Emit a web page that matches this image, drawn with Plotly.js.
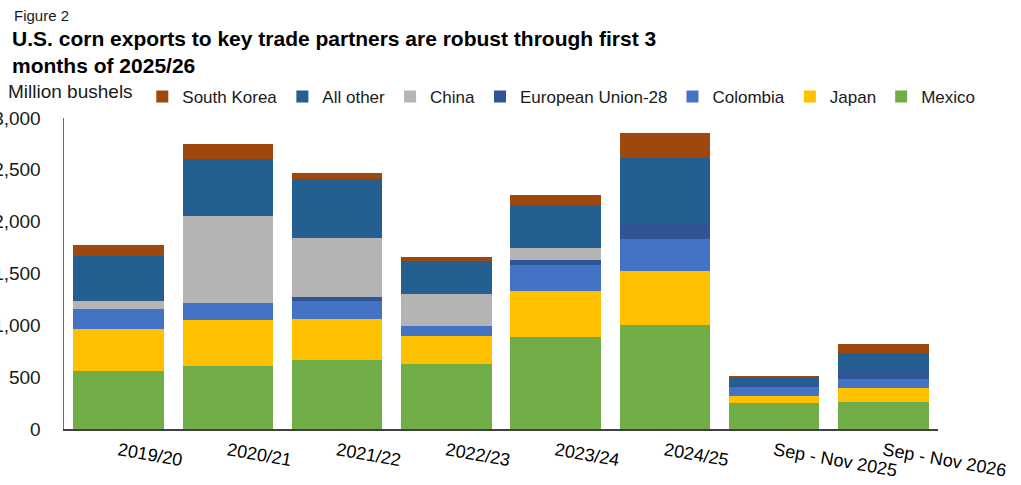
<!DOCTYPE html>
<html>
<head>
<meta charset="utf-8">
<script src="https://cdn.plot.ly/plotly-3.0.1.min.js"></script>
<style>
  html, body { margin: 0; padding: 0; background: #ffffff; }
  #chart { width: 1021px; height: 485px; }
</style>
</head>
<body>
<div id="chart"></div>
<script>
// Categories (marketing years)
var categories = ["2019/20", "2020/21", "2021/22", "2022/23", "2023/24", "2024/25", "Sep - Nov 2025", "Sep - Nov 2026"];

// Series values, million bushels
var mexico      = [559, 604, 662, 630, 890, 1000, 254, 257];
var japan       = [402, 447, 395, 270, 443, 523, 64, 135];
var colombia    = [199, 161, 180, 93, 248, 311, 84, 90];
var eu28        = [0, 0, 33, 0, 45, 145, 22, 87];
var china       = [77, 841, 568, 311, 119, 0, 0, 0];
var allOther    = [434, 550, 575, 319, 411, 633, 74, 167];
var southKorea  = [105, 144, 61, 38, 97, 245, 16, 86];

var seriesNames  = ["Mexico", "Japan", "Colombia", "European Union-28", "China", "All other", "South Korea"];
var seriesValues = [mexico, japan, colombia, eu28, china, allOther, southKorea];
var seriesColors = ["#70AD47", "#FFC000", "#4472C4", "#2F5597", "#B4B4B4", "#255E91", "#9E480E"];

var yTickValues = [0, 500, 1000, 1500, 2000, 2500, 3000];

var traces = seriesNames.map(function (name, i) {
  return {
    type: "bar",
    name: name,
    x: categories,
    y: seriesValues[i],
    marker: { color: seriesColors[i], line: { width: 0 } },
    hoverinfo: "name+y"
  };
});

var layout = {
  width: 1021,
  height: 485,
  barmode: "stack",
  bargap: 0.17,
  paper_bgcolor: "#ffffff",
  plot_bgcolor: "#ffffff",
  font: { family: "Arial, 'Liberation Sans', sans-serif", color: "#1a1a1a", size: 18 },
  margin: { l: 64, r: 83, t: 118, b: 56, pad: 0 },
  title: {
    text: "<b>U.S. corn exports to key trade partners are robust through first 3<br>months of 2025/26</b>",
    font: { family: "Arial, 'Liberation Sans', sans-serif", size: 21, color: "#000000" },
    xref: "container", yref: "container",
    x: 0.0118, xanchor: "left",
    y: 0.906, yanchor: "top"
  },
  xaxis: {
    type: "category",
    tickangle: 10,
    showline: true,
    linecolor: "#404040",
    linewidth: 1.5,
    ticks: "",
    showgrid: false,
    zeroline: false,
    ticklabelstandoff: 3,
    tickfont: { size: 18, color: "#000000" }
  },
  yaxis: {
    range: [0, 3000],
    tickvals: yTickValues,
    tickformat: ",d",
    showline: true,
    linecolor: "#6b6b6b",
    linewidth: 1.5,
    ticks: "",
    showgrid: false,
    zeroline: false,
    ticklabelstandoff: 18,
    tickfont: { size: 19, color: "#1a1a1a" }
  },
  showlegend: true,
  legend: {
    orientation: "h",
    traceorder: "reversed",
    x: 0.569, xanchor: "center",
    y: 1.0675, yanchor: "middle",
    font: { size: 17, color: "#1a1a1a" },
    bgcolor: "rgba(0,0,0,0)",
    itemclick: false
  },
  annotations: [
    {
      text: "Figure 2",
      xref: "paper", yref: "paper",
      x: -0.0595, y: 1.331,
      xanchor: "left", yanchor: "middle",
      showarrow: false,
      font: { size: 15, color: "#1a1a1a" }
    },
    {
      text: "Million bushels",
      xref: "paper", yref: "paper",
      x: -0.066, y: 1.085,
      xanchor: "left", yanchor: "middle",
      showarrow: false,
      font: { size: 19, color: "#1a1a1a" }
    }
  ]
};

Plotly.newPlot("chart", traces, layout, { displayModeBar: false, staticPlot: true });
</script>
</body>
</html>
